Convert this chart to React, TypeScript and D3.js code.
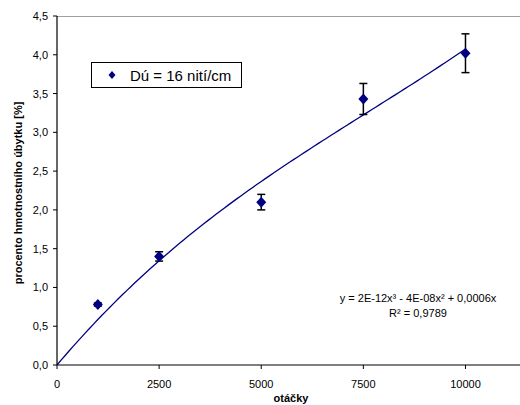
import React from "react";
import * as d3 from "d3";

// Measured wear: rotations vs. percentage of weight loss
const rotations = [1000, 2500, 5000, 7500, 10000];
const weightLoss = [0.78, 1.4, 2.1, 3.43, 4.02];
const errorHalf = [0.02, 0.06, 0.1, 0.2, 0.25];

const xTicks = [0, 2500, 5000, 7500, 10000];
const yTicks = [0, 0.5, 1, 1.5, 2, 2.5, 3, 3.5, 4, 4.5];

const legendLabel = "Dú = 16 nití/cm";
const equationLabel = "y = 2E-12x³ - 4E-08x² + 0,0006x";
const rSquaredLabel = "R² = 0,9789";
const xTitle = "otáčky";
const yTitle = "procento hmotnostního úbytku [%]";

const W = 520;
const H = 405;
const left = 57;
const top = 16;
const bottom = 365;
const right = 567.6;

const NAVY = "#000080";
const FONT = "Liberation Sans, Arial, sans-serif";

// Least-squares cubic through the origin: y = a x³ + b x² + c x (x in thousands)
function fitCubic(xs: number[], ys: number[]) {
  const u = xs.map((x) => x / 1000);
  const basis = (t: number) => [t, t * t, t * t * t];
  const M = [0, 1, 2].map(() => [0, 0, 0, 0]);
  u.forEach((t, i) => {
    const b = basis(t);
    for (let r = 0; r < 3; r++) {
      for (let c = 0; c < 3; c++) M[r][c] += b[r] * b[c];
      M[r][3] += b[r] * ys[i];
    }
  });
  // Gauss-Jordan elimination with partial pivoting
  for (let p = 0; p < 3; p++) {
    let best = p;
    for (let r = p + 1; r < 3; r++) if (Math.abs(M[r][p]) > Math.abs(M[best][p])) best = r;
    [M[p], M[best]] = [M[best], M[p]];
    for (let r = 0; r < 3; r++) {
      if (r === p) continue;
      const f = M[r][p] / M[p][p];
      for (let c = p; c < 4; c++) M[r][c] -= f * M[p][c];
    }
  }
  const coef = M.map((row, i) => row[3] / row[i]);
  return (x: number) => {
    const t = x / 1000;
    return coef[0] * t + coef[1] * t * t + coef[2] * t * t * t;
  };
}

// Square-ish diamond marker centred at the origin
function diamondPath(hw: number, hh: number) {
  const p = d3.path();
  p.moveTo(0, -hh);
  p.lineTo(hw, 0);
  p.lineTo(0, hh);
  p.lineTo(-hw, 0);
  p.closePath();
  return p.toString();
}

export default function App() {
  const x = d3.scaleLinear().domain([0, 12500]).range([left, right]);
  const y = d3.scaleLinear().domain([0, 4.5]).range([bottom, top]);

  const trend = fitCubic(rotations, weightLoss);
  const trendPts = d3.range(0, 10001, 100).map((v) => [v, trend(v)] as [number, number]);
  const trendPath = d3
    .line<[number, number]>()
    .x((d) => x(d[0]))
    .y((d) => y(d[1]))(trendPts);

  const marker = diamondPath(5, 5.5);
  const legendMarker = diamondPath(3.5, 4);

  return (
    <svg
      width={W}
      height={H}
      style={{ position: "absolute", left: 0, top: 0, background: "#fff" }}
      fontFamily={FONT}
    >
      <rect x={0} y={0} width={W} height={H} fill="#fff" />
      {/* plot frame: grey top border, black axes */}
      <line x1={left} x2={W} y1={top + 0.5} y2={top + 0.5} stroke="#a0a0a0" strokeWidth={1} />
      <line x1={left} x2={W} y1={bottom} y2={bottom} stroke="#000" strokeWidth={1.2} />
      <line x1={left} x2={left} y1={top} y2={bottom} stroke="#000" strokeWidth={1.2} />

      {yTicks.map((t) => (
        <g key={"y" + t}>
          <line x1={left - 4} x2={left} y1={y(t)} y2={y(t)} stroke="#000" />
          <text x={48} y={y(t) + 4} textAnchor="end" fontSize={11} fill="#000">
            {d3.format(".1f")(t).replace(".", ",")}
          </text>
        </g>
      ))}
      {xTicks.map((t) => (
        <g key={"x" + t}>
          <line x1={x(t)} x2={x(t)} y1={bottom} y2={bottom + 4} stroke="#000" />
          <text x={x(t)} y={388} textAnchor="middle" fontSize={11} fill="#000">
            {t}
          </text>
        </g>
      ))}

      <text x={291} y={402} textAnchor="middle" fontSize={11} fontWeight="bold">
        {xTitle}
      </text>
      <text
        transform={`translate(22,193) rotate(-90)`}
        textAnchor="middle"
        fontSize={11}
        fontWeight="bold"
      >
        {yTitle}
      </text>

      {/* trendline */}
      <path d={trendPath ?? ""} fill="none" stroke={NAVY} strokeWidth={1.3} />

      {/* error bars and markers */}
      {rotations.map((r, i) => {
        const cx = x(r);
        const y1 = y(weightLoss[i] + errorHalf[i]);
        const y2 = y(weightLoss[i] - errorHalf[i]);
        return (
          <g key={"p" + r}>
            <line x1={cx} x2={cx} y1={y1} y2={y2} stroke="#000" strokeWidth={1.5} />
            <line x1={cx - 4} x2={cx + 4} y1={y1} y2={y1} stroke="#000" strokeWidth={1.5} />
            <line x1={cx - 4} x2={cx + 4} y1={y2} y2={y2} stroke="#000" strokeWidth={1.5} />
            <path d={marker} transform={`translate(${cx},${y(weightLoss[i])})`} fill={NAVY} />
          </g>
        );
      })}

      {/* legend */}
      <rect x={91.5} y={62.5} width={150} height={25} fill="#fff" stroke="#000" strokeWidth={1} />
      <path d={legendMarker} transform="translate(112,75)" fill={NAVY} />
      <text x={130} y={80.5} fontSize={15} fill="#000">
        {legendLabel}
      </text>

      {/* fitted equation */}
      <text x={418} y={302} textAnchor="middle" fontSize={11}>
        {equationLabel}
      </text>
      <text x={418} y={317} textAnchor="middle" fontSize={11}>
        {rSquaredLabel}
      </text>
    </svg>
  );
}
